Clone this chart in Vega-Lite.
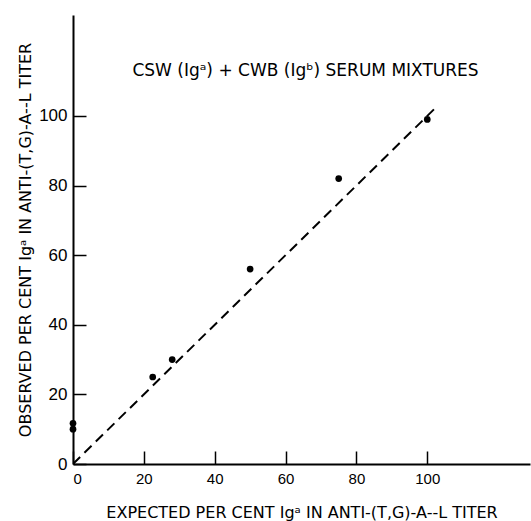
{
  "$schema": "https://vega.github.io/schema/vega-lite/v6.json",
  "width": 457,
  "height": 449,
  "autosize": "none",
  "padding": {"left": 73, "top": 15, "right": 1, "bottom": 57},
  "background": "white",
  "config": {
    "view": {"stroke": null},
    "font": "Liberation Sans"
  },
  "title": {
    "text": "CSW (Igᵃ) + CWB (Igᵇ)  SERUM MIXTURES",
    "anchor": "middle",
    "frame": "group",
    "font": "DejaVu Sans",
    "fontSize": 17,
    "fontWeight": "normal",
    "color": "black",
    "dy": 69,
    "dx": 4
  },
  "datasets": {
    "points": [
      {"expected": 0, "observed": 11.7},
      {"expected": 0, "observed": 10},
      {"expected": 22.5, "observed": 25},
      {"expected": 28, "observed": 30},
      {"expected": 50, "observed": 56},
      {"expected": 75, "observed": 82},
      {"expected": 100, "observed": 99}
    ],
    "identity": [
      {"expected": 0, "observed": 0},
      {"expected": 103, "observed": 103}
    ]
  },
  "layer": [
    {
      "data": {"name": "identity"},
      "mark": {"type": "line", "color": "black", "strokeWidth": 2, "strokeDash": [10, 6], "clip": true},
      "encoding": {
        "x": {
          "field": "expected", "type": "quantitative",
          "scale": {"domain": [0, 129], "nice": false, "zero": true},
          "axis": {
            "title": "EXPECTED PER CENT Igᵃ IN ANTI-(T,G)-A--L TITER",
            "values": [0, 20, 40, 60, 80, 100],
            "grid": false,
            "domainColor": "black", "domainWidth": 2,
            "tickColor": "black", "tickWidth": 1.5, "tickSize": -13,
            "labelFont": "Liberation Sans", "labelFontSize": 15, "labelColor": "black",
            "labelPadding": 20,
            "titleFont": "DejaVu Sans", "titleFontSize": 16, "titleFontWeight": "normal",
            "titleColor": "black", "titlePadding": 18
          }
        },
        "y": {
          "field": "observed", "type": "quantitative",
          "scale": {"domain": [0, 129], "nice": false, "zero": true},
          "axis": {
            "title": "OBSERVED PER CENT Igᵃ IN ANTI-(T,G)-A--L TITER",
            "values": [0, 20, 40, 60, 80, 100],
            "grid": false,
            "domainColor": "black", "domainWidth": 2,
            "tickColor": "black", "tickWidth": 1.5, "tickSize": -13,
            "labelFont": "Liberation Sans", "labelFontSize": 17, "labelColor": "black",
            "labelPadding": 19,
            "titleFont": "DejaVu Sans", "titleFontSize": 16, "titleFontWeight": "normal",
            "titleColor": "black", "titlePadding": 5
          }
        }
      }
    },
    {
      "data": {"name": "points"},
      "mark": {"type": "point", "filled": true, "color": "black", "opacity": 1, "size": 45, "clip": false},
      "encoding": {
        "x": {"field": "expected", "type": "quantitative"},
        "y": {"field": "observed", "type": "quantitative"}
      }
    }
  ]
}
